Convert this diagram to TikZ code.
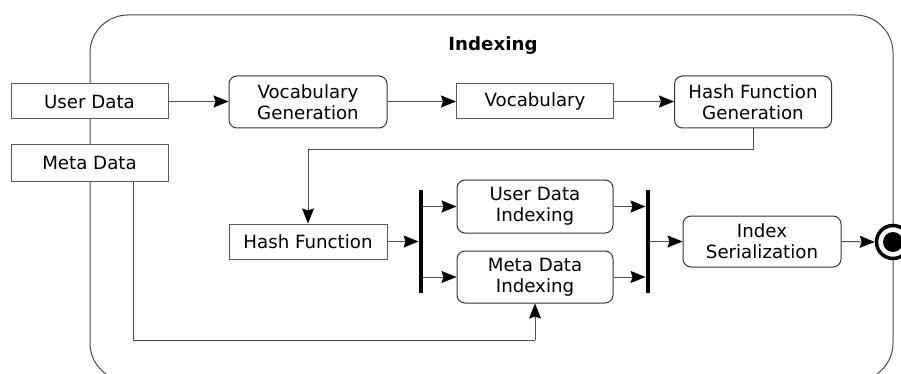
\documentclass[tikz,border=0pt]{standalone}
\usepackage{fontspec}
\setmainfont{DejaVu Sans}
\usetikzlibrary{arrows.meta,calc}
\begin{document}
\begin{tikzpicture}[x=1pt,y=-1pt,
  every node/.style={font=\fontsize{18.2}{21}\selectfont, inner sep=0pt, align=center},
  databox/.style={draw=black!65, line width=1pt, fill=white, rectangle},
  actbox/.style={draw=black!80, line width=1pt, fill=white, rectangle, rounded corners=8pt},
  barnode/.style={fill=black, draw=none, minimum width=4.5pt, minimum height=103pt},
  conn/.style={draw=black!70, line width=1pt, -{Stealth[length=15pt,width=12pt,inset=2pt,black]}},
  plain/.style={draw=black!70, line width=1pt}
]
\useasboundingbox (0,0) rectangle (901,374);
\clip (0,0) rectangle (901,374);
% outer frame
\draw[black!70, line width=1pt, rounded corners=38pt] (90,15) rectangle (893,381);
\node[font=\fontsize{18.2}{21}\selectfont\bfseries] (title) at (493,46) {Indexing};

\node[databox, minimum width=157pt, minimum height=35pt] (ud) at (89.5,101.5) {User Data};
\node[databox, minimum width=157pt, minimum height=36pt] (md) at (89.5,163) {Meta Data};
\node[actbox, minimum width=158pt, minimum height=52pt] (vg) at (308,102) {Vocabulary\\Generation};
\node[databox, minimum width=157pt, minimum height=35pt] (voc) at (535,101.5) {Vocabulary};
\node[actbox, minimum width=157pt, minimum height=52pt] (hfg) at (753,102) {Hash Function\\Generation};
\node[databox, minimum width=158pt, minimum height=35pt] (hf) at (308,241.5) {Hash Function};
\node[barnode] (fork) at (421,241.5) {};
\node[actbox, minimum width=156pt, minimum height=53pt] (udi) at (535,206.5) {User Data\\Indexing};
\node[actbox, minimum width=156pt, minimum height=52pt] (mdi) at (535,277) {Meta Data\\Indexing};
\node[barnode] (join) at (648,241.5) {};
\node[actbox, minimum width=158pt, minimum height=51pt] (is) at (762,241.5) {Index\\Serialization};
\node[circle, draw=black, line width=3.5pt, minimum size=33pt, fill=white] (fin) at (893,242) {};
\fill[black] (fin.center) circle (10pt);

\coordinate (k1) at (753,150);
\coordinate (k2) at (308,150);
\coordinate (mout) at (133,181);
\coordinate (m1) at (133,340);
\coordinate (m2) at (535,340);

\draw[conn] (ud.east) -- (vg.west |- ud.east);
\draw[conn] (vg.east |- voc.west) -- (voc.west);
\draw[conn] (voc.east) -- (hfg.west |- voc.east);
\draw[plain] (hfg.south) -- (k1) -- (k2);
\draw[conn] (k2) -- (hf.north);
\draw[conn] (hf.east) -- (fork.west |- hf.east);
\draw[conn] (fork.east |- udi.west) -- (udi.west);
\draw[conn] (fork.east |- mdi.west) -- (mdi.west);
\draw[conn] (udi.east) -- (join.west |- udi.east);
\draw[conn] (mdi.east) -- (join.west |- mdi.east);
\draw[conn] (join.east |- is.west) -- (is.west);
\draw[conn] (is.east) -- (fin.west);
\draw[plain] (mout) -- (m1) -- (m2);
\draw[conn] (m2) -- (mdi.south);
\end{tikzpicture}
\end{document}
